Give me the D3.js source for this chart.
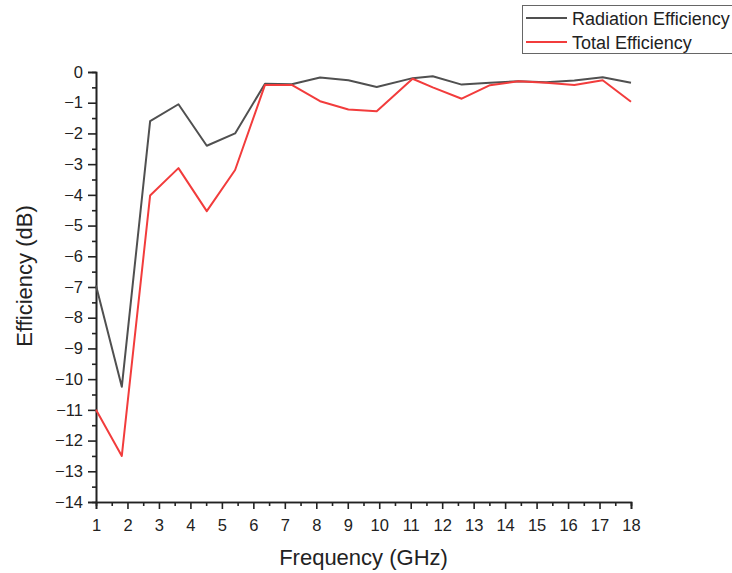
<!DOCTYPE html>
<meta charset="utf-8">
<script src="https://d3js.org/d3.v7.min.js"></script>
<style>
  body { margin: 0; background: #fff; }
  text { font-family: "Liberation Sans", Arial, sans-serif; fill: #222; }
</style>
<div id="chart"></div>
<script>

// frequency points (GHz)
var freq = [1, 1.82, 2.72, 3.62, 4.52, 5.42, 6.37, 7.22, 8.12, 9.02, 9.92, 11.06, 11.7, 12.62, 13.52, 14.42, 15.3, 16.2, 17.1, 18];

// efficiency values (dB)
var radiation = [-6.95, -10.25, -1.6, -1.05, -2.4, -2.0, -0.38, -0.4, -0.18, -0.27, -0.49, -0.2, -0.14, -0.41, -0.35, -0.3, -0.33, -0.28, -0.17, -0.35];
var total = [-11.0, -12.5, -4.02, -3.13, -4.53, -3.19, -0.42, -0.42, -0.95, -1.22, -1.28, -0.22, -0.5, -0.87, -0.43, -0.3, -0.35, -0.42, -0.27, -0.97];

var xTicks = d3.range(1, 19);
var yTicks = d3.range(-14, 1);

var series = [
  {name: "Radiation Efficiency", values: radiation, color: "#505050"},
  {name: "Total Efficiency", values: total, color: "#f23c3c"}
];

var W = 732, H = 573;
var margin = {top: 72, right: 101, bottom: 71, left: 96},
    width = W - margin.left - margin.right,
    height = H - margin.top - margin.bottom;

var svg = d3.select("#chart")
  .append("svg")
    .attr("width", W)
    .attr("height", H);

var g = svg.append("g")
    .attr("transform", "translate(" + margin.left + "," + margin.top + ")");

var x = d3.scaleLinear().domain([1, 18]).range([0, width]);
var y = d3.scaleLinear().domain([-14, 0]).range([height, 0]);

// minor ticks
g.append("g")
  .attr("class", "axis")
  .attr("transform", "translate(0," + height + ")")
  .call(d3.axisBottom(x).tickValues(d3.range(1.5, 18, 1)).tickSize(4).tickFormat(""));
g.append("g")
  .attr("class", "axis")
  .call(d3.axisLeft(y).tickValues(d3.range(-13.5, 0, 1)).tickSize(4).tickFormat(""));

// major axes
g.append("g")
  .attr("class", "axis")
  .attr("transform", "translate(0," + height + ")")
  .call(d3.axisBottom(x).tickValues(xTicks).tickSize(7).tickPadding(10).tickFormat(d3.format("d")));
g.append("g")
  .attr("class", "axis")
  .call(d3.axisLeft(y).tickValues(yTicks).tickSize(8).tickPadding(5).tickFormat(d3.format("d")));

g.selectAll(".axis path, .axis line")
  .attr("stroke", "#222")
  .attr("stroke-width", 1.6);
g.selectAll(".axis text")
  .style("font-size", "16.5px")
  .attr("fill", "#222");

// lines
var line = d3.line()
  .x(function(d, i) { return x(freq[i]); })
  .y(function(d) { return y(d); });

series.forEach(function(s) {
  g.append("path")
    .datum(s.values)
    .attr("fill", "none")
    .attr("stroke", s.color)
    .attr("stroke-width", 2)
    .attr("stroke-linejoin", "round")
    .attr("d", line);
});

// axis titles
svg.append("text")
  .attr("x", margin.left + width / 2)
  .attr("y", 565)
  .attr("text-anchor", "middle")
  .style("font-size", "22px")
  .text("Frequency (GHz)");

svg.append("text")
  .attr("transform", "translate(32,276) rotate(-90)")
  .attr("text-anchor", "middle")
  .style("font-size", "22px")
  .text("Efficiency (dB)");

// legend
var legend = svg.append("g");
legend.append("rect")
  .attr("x", 522.5)
  .attr("y", 5.5)
  .attr("width", 230)
  .attr("height", 48)
  .attr("fill", "#fff")
  .attr("stroke", "#666")
  .attr("stroke-width", 1);

series.forEach(function(s, i) {
  var ly = 18 + i * 24;
  legend.append("line")
    .attr("x1", 526).attr("x2", 567)
    .attr("y1", ly).attr("y2", ly)
    .attr("stroke", s.color)
    .attr("stroke-width", 2);
  legend.append("text")
    .attr("x", 572)
    .attr("y", ly + 7)
    .style("font-size", "18px")
    .text(s.name);
});

</script>
